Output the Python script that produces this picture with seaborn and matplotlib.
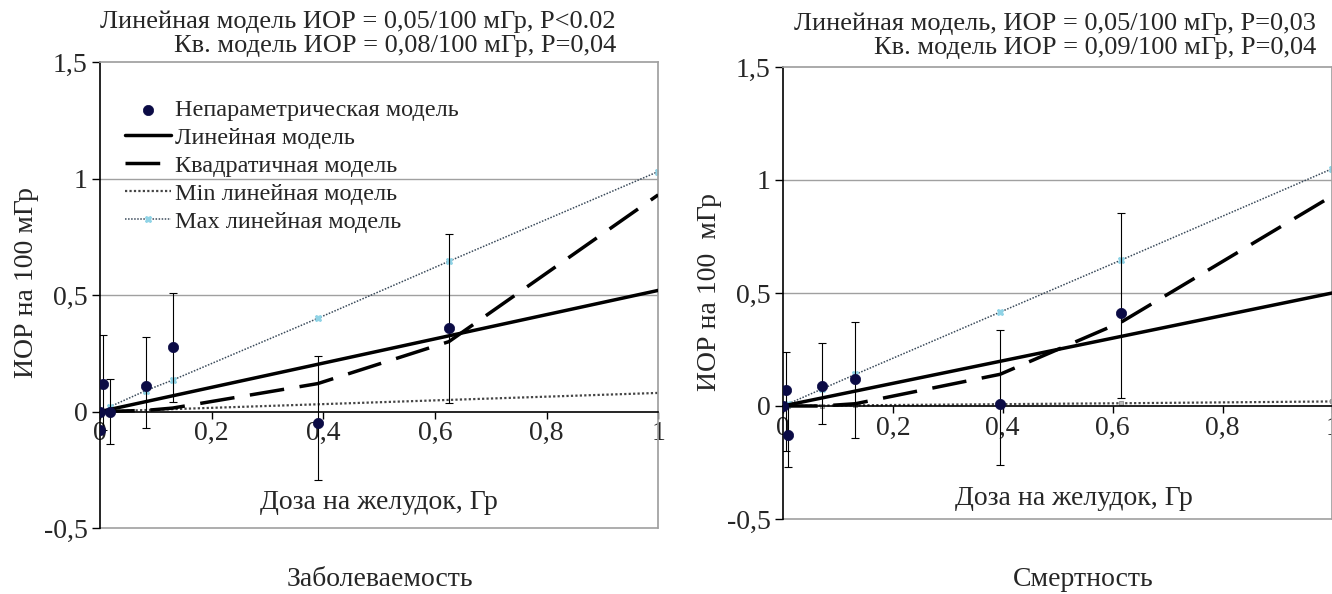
import numpy as np
import pandas as pd
import matplotlib
matplotlib.use("Agg")
import matplotlib.pyplot as plt
from matplotlib.ticker import FuncFormatter
import seaborn as sns

# --- Заболеваемость (left) ---
inc_np_x = [0.0, 0.0, 0.006, 0.017, 0.082, 0.13, 0.39, 0.625]
inc_np_y = [-0.08, 0.0, 0.12, 0.0, 0.11, 0.275, -0.05, 0.36]
inc_np_lo = [-0.08, 0.0, -0.08, -0.14, -0.07, 0.04, -0.295, 0.036]
inc_np_hi = [-0.08, 0.0, 0.33, 0.14, 0.32, 0.51, 0.24, 0.76]
inc_lin_x = [0.0, 1.0]
inc_lin_y = [0.0, 0.52]
inc_quad_x = [0.0, 0.082, 0.13, 0.39, 0.625, 1.0]
inc_quad_y = [0.0, 0.005, 0.015, 0.12, 0.30, 0.93]
inc_min_x = [0.0, 1.0]
inc_min_y = [0.0, 0.08]
inc_max_x = [0.017, 0.082, 0.13, 0.39, 0.625, 1.0]
inc_max_y = [0.02, 0.09, 0.135, 0.40, 0.645, 1.03]

# --- Смертность (right) ---
mor_np_x = [0.0, 0.005, 0.01, 0.071, 0.132, 0.395, 0.615]
mor_np_y = [0.0, 0.07, -0.128, 0.088, 0.12, 0.007, 0.41]
mor_np_lo = [0.0, -0.20, -0.27, -0.08, -0.14, -0.26, 0.034]
mor_np_hi = [0.0, 0.24, 0.0, 0.28, 0.37, 0.335, 0.855]
mor_lin_x = [0.0, 1.0]
mor_lin_y = [0.0, 0.50]
mor_quad_x = [0.0, 0.071, 0.132, 0.395, 0.615, 1.0]
mor_quad_y = [0.0, 0.0, 0.01, 0.14, 0.37, 0.93]
mor_min_x = [0.0, 0.01, 0.071, 0.132, 0.615, 1.0]
mor_min_y = [0.0, 0.0, 0.002, 0.003, 0.012, 0.02]
mor_max_x = [0.01, 0.071, 0.132, 0.395, 0.615, 1.0]
mor_max_y = [0.01, 0.075, 0.14, 0.415, 0.645, 1.05]

inc_title = ["Линейная модель ИОР = 0,05/100 мГр, P<0.02", "Кв. модель ИОР = 0,08/100 мГр, P=0,04"]
mor_title = ["Линейная модель, ИОР = 0,05/100 мГр, P=0,03", "Кв. модель ИОР = 0,09/100 мГр, P=0,04"]
subtitles = ["Заболеваемость", "Смертность"]
labels = ["Непараметрическая модель", "Линейная модель", "Квадратичная модель",
          "Min линейная модель", "Max линейная модель"]

sns.set_theme(style="white")
plt.rcParams['font.family'] = ['Liberation Serif', 'DejaVu Serif']

NAVY = "#0b0b45"
CYAN = "#8fd3e6"
FS = 20

fig = plt.figure(figsize=(13.32, 5.94), dpi=100)
ax1 = fig.add_axes([0.0751, 0.111, 0.419, 0.7845])
ax2 = fig.add_axes([0.5878, 0.1263, 0.4125, 0.761])


def draw(ax, npx, npy, nplo, nphi, lx, ly, qx, qy, mnx, mny, mxx, mxy, min_markers):
    ax.errorbar(npx, npy,
                yerr=[np.array(npy) - np.array(nplo), np.array(nphi) - np.array(npy)],
                fmt="none", ecolor="black", elinewidth=0.8, capsize=3, capthick=0.8, zorder=3)
    sns.lineplot(x=mnx, y=mny, ax=ax, color="#444444", lw=1.6, linestyle=(0, (1, 1)),
                 marker="s" if min_markers else None, markersize=3, markerfacecolor="#bbbbbb",
                 markeredgecolor="#999999", label=labels[3], legend=False, zorder=2)
    sns.lineplot(x=mxx, y=mxy, ax=ax, color="#3a4a5a", lw=1.1, linestyle=(0, (1, 1)),
                 marker="X", markersize=5, markerfacecolor=CYAN, markeredgecolor=CYAN,
                 label=labels[4], legend=False, zorder=2)
    sns.lineplot(x=lx, y=ly, ax=ax, color="black", lw=2.5, label=labels[1], legend=False, zorder=4)
    sns.lineplot(x=qx, y=qy, ax=ax, color="black", lw=2.5, label=labels[2],
                 legend=False, zorder=4).lines[-1].set_dashes((10, 4.5))
    sns.scatterplot(x=npx, y=npy, ax=ax, color=NAVY, s=55, edgecolor=NAVY, linewidth=0.5,
                    label=labels[0], legend=False, zorder=5)

    ax.set_xlim(0, 1)
    ax.set_ylim(-0.5, 1.5)
    ax.set_xticks([0, 0.2, 0.4, 0.6, 0.8, 1.0])
    ax.set_yticks([-0.5, 0, 0.5, 1.0, 1.5])
    fmt = FuncFormatter(lambda v, p: ("%g" % round(v, 2)).replace(".", ","))
    ax.xaxis.set_major_formatter(fmt)
    ax.yaxis.set_major_formatter(fmt)
    for yv in (0.5, 1.0):
        ax.axhline(yv, color="#a0a0a0", lw=1.0, zorder=0)
    ax.axhline(-0.5, color="#a0a0a0", lw=1.2, zorder=0, clip_on=False)
    ax.spines["bottom"].set_position(("data", 0))
    ax.spines["bottom"].set_color("black")
    ax.spines["bottom"].set_linewidth(1.2)
    ax.spines["left"].set_color("black")
    ax.spines["left"].set_linewidth(1.2)
    ax.spines["top"].set_color("#a0a0a0")
    ax.spines["right"].set_color("#a0a0a0")
    ax.tick_params(axis="y", direction="out", length=6, width=1, color="black",
                   labelsize=FS, left=True, pad=3)
    ax.tick_params(axis="x", direction="out", length=5, width=1, color="black",
                   labelsize=FS, bottom=True, pad=2)
    ax.set_facecolor("white")


draw(ax1, inc_np_x, inc_np_y, inc_np_lo, inc_np_hi, inc_lin_x, inc_lin_y, inc_quad_x, inc_quad_y,
     inc_min_x, inc_min_y, inc_max_x, inc_max_y, False)
draw(ax2, mor_np_x, mor_np_y, mor_np_lo, mor_np_hi, mor_lin_x, mor_lin_y, mor_quad_x, mor_quad_y,
     mor_min_x, mor_min_y, mor_max_x, mor_max_y, True)

# legend (left panel only)
h, l = ax1.get_legend_handles_labels()
order = [l.index(name) for name in labels]
ax1.legend([h[i] for i in order], [l[i] for i in order], loc="upper left",
           bbox_to_anchor=(0.045, 0.921), frameon=False, fontsize=17.5, handlelength=1.9,
           handletextpad=0.15, labelspacing=0.245, borderaxespad=0.0, borderpad=0.0)

# titles, axis labels
for i, t in enumerate(inc_title):
    fig.text(616 / 1332, 1 - (22 + 24 * i) / 594, t, ha="right", va="center", fontsize=19)
for i, t in enumerate(mor_title):
    fig.text(1316 / 1332, 1 - (24 + 24 * i) / 594, t, ha="right", va="center", fontsize=19)
fig.text(380 / 1332, 1 - 580 / 594, subtitles[0], ha="center", va="center", fontsize=FS)
fig.text(1083 / 1332, 1 - 580 / 594, subtitles[1], ha="center", va="center", fontsize=FS)
fig.text(27 / 1332, 1 - 283 / 594, "ИОР на 100 мГр", rotation=90, ha="center", va="center", fontsize=FS)
fig.text(710 / 1332, 1 - 292 / 594, "ИОР на 100  мГр", rotation=90, ha="center", va="center", fontsize=FS)
ax1.text(0.5, -0.39, "Доза на желудок, Гр", ha="center", va="center", fontsize=FS)
ax2.text(0.53, -0.41, "Доза на желудок, Гр", ha="center", va="center", fontsize=FS)

fig.savefig("out.png", dpi=100)
